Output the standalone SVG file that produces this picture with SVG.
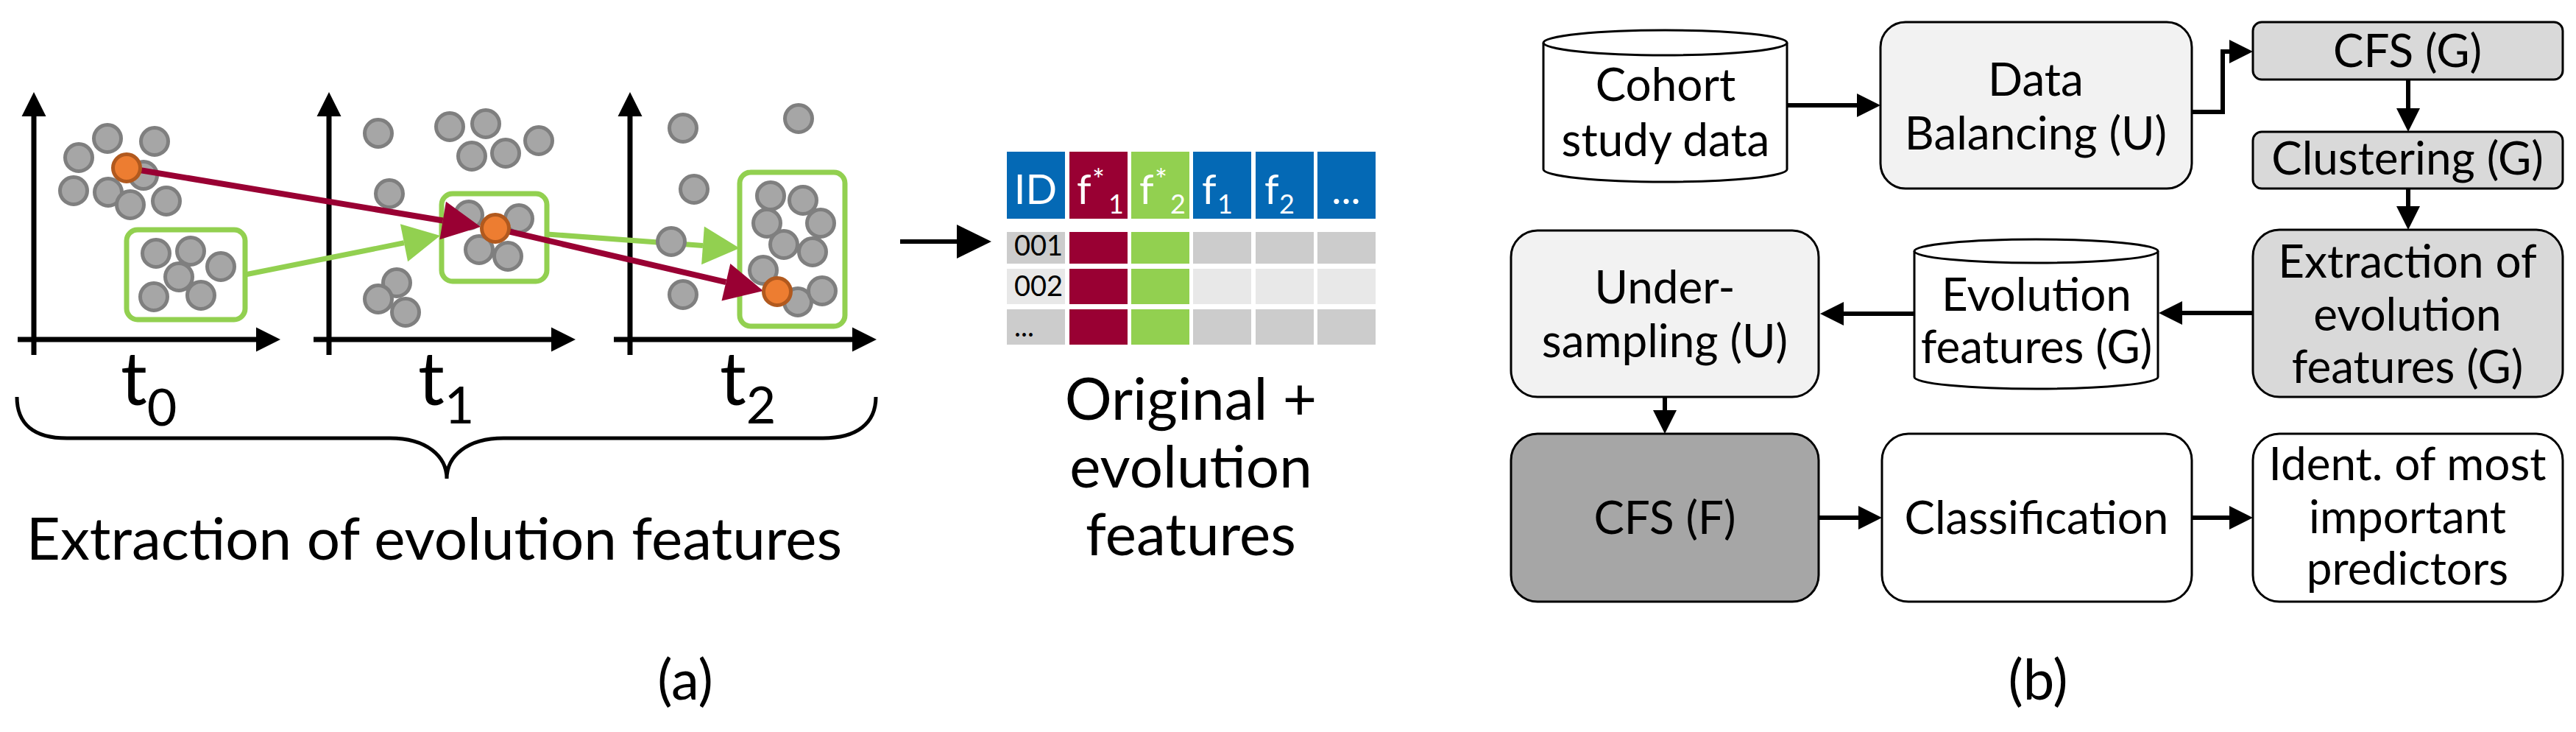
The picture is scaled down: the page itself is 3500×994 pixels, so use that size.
<svg xmlns="http://www.w3.org/2000/svg" width="3500" height="994" viewBox="0 0 3500 994">
<style>
.gc{fill:#A6A6A6;stroke:#7F7F7F;stroke-width:5}
.oc{fill:#ED7D31;stroke:#B1591E;stroke-width:5}
.ax{stroke:#000;stroke-width:7;fill:none}
.gbox{fill:none;stroke:#92D050;stroke-width:7}
.rl{stroke:#990033;stroke-width:8;fill:none}
.gl{stroke:#92D050;stroke-width:7;fill:none}
.box{stroke:#000;stroke-width:3}
.cyl{fill:#fff;stroke:#000;stroke-width:3}
.con{stroke:#000;stroke-width:6;fill:none}
.t{font-family:Lato,"Liberation Sans",sans-serif;fill:#000}
.lbl{font-family:Lato,"Liberation Sans",sans-serif;font-size:62px;text-anchor:middle;fill:#000}
.hd{font-family:Lato,"Liberation Sans",sans-serif;fill:#fff}
</style>
<defs>
<marker id="axH" markerUnits="userSpaceOnUse" orient="auto" refX="0" refY="0" markerWidth="40" markerHeight="40" overflow="visible"><path d="M0,-16.5 L33,0 L0,16.5 z" fill="#000"/></marker>
<marker id="redH" markerUnits="userSpaceOnUse" orient="auto" refX="0" refY="0" markerWidth="60" markerHeight="60" overflow="visible"><path d="M0,-26 L52,0 L0,26 z" fill="#990033"/></marker>
<marker id="grnH" markerUnits="userSpaceOnUse" orient="auto" refX="0" refY="0" markerWidth="60" markerHeight="60" overflow="visible"><path d="M0,-26 L50,0 L0,26 z" fill="#92D050"/></marker>
<marker id="fcH" markerUnits="userSpaceOnUse" orient="auto" refX="0" refY="0" markerWidth="40" markerHeight="40" overflow="visible"><path d="M0,-16 L32,0 L0,16 z" fill="#000"/></marker>
<marker id="tbH" markerUnits="userSpaceOnUse" orient="auto" refX="0" refY="0" markerWidth="60" markerHeight="60" overflow="visible"><path d="M0,-23 L47,0 L0,23 z" fill="#000"/></marker>
</defs>

<g id="panel-a">
  <g id="axes">
    <path class="ax" d="M46,482 L46,158" marker-end="url(#axH)"/>
    <path class="ax" d="M24,461 L348,461" marker-end="url(#axH)"/>
    <path class="ax" d="M447,482 L447,158" marker-end="url(#axH)"/>
    <path class="ax" d="M426,461 L749,461" marker-end="url(#axH)"/>
    <path class="ax" d="M856,482 L856,158" marker-end="url(#axH)"/>
    <path class="ax" d="M834,461 L1158,461" marker-end="url(#axH)"/>
  </g>
  <g id="clusters">
    <rect class="gbox" x="172" y="312" width="161" height="122" rx="15"/>
    <rect class="gbox" x="600" y="263" width="143" height="119" rx="15"/>
    <rect class="gbox" x="1005" y="234" width="143" height="209" rx="15"/>
  </g>
  <g id="points-t0">
    <circle class="gc" cx="146" cy="188" r="18.5"/>
    <circle class="gc" cx="210" cy="192" r="18.5"/>
    <circle class="gc" cx="107" cy="214" r="18.5"/>
    <circle class="gc" cx="195" cy="238" r="18.5"/>
    <circle class="gc" cx="100" cy="259" r="18.5"/>
    <circle class="gc" cx="147" cy="261" r="18.5"/>
    <circle class="gc" cx="177" cy="278" r="18.5"/>
    <circle class="gc" cx="226" cy="273" r="18.5"/>
    <circle class="gc" cx="212" cy="344" r="18.5"/>
    <circle class="gc" cx="259" cy="341" r="18.5"/>
    <circle class="gc" cx="300" cy="362" r="18.5"/>
    <circle class="gc" cx="243" cy="376" r="18.5"/>
    <circle class="gc" cx="209" cy="403" r="18.5"/>
    <circle class="gc" cx="273" cy="401" r="18.5"/>
  </g>
  <g id="points-t1">
    <circle class="gc" cx="514" cy="181" r="18.5"/>
    <circle class="gc" cx="611" cy="172" r="18.5"/>
    <circle class="gc" cx="660" cy="168" r="18.5"/>
    <circle class="gc" cx="641" cy="212" r="18.5"/>
    <circle class="gc" cx="687" cy="208" r="18.5"/>
    <circle class="gc" cx="732" cy="191" r="18.5"/>
    <circle class="gc" cx="529" cy="263" r="18.5"/>
    <circle class="gc" cx="637" cy="292" r="18.5"/>
    <circle class="gc" cx="705" cy="297" r="18.5"/>
    <circle class="gc" cx="651" cy="339" r="18.5"/>
    <circle class="gc" cx="690" cy="348" r="18.5"/>
    <circle class="gc" cx="539" cy="384" r="18.5"/>
    <circle class="gc" cx="514" cy="406" r="18.5"/>
    <circle class="gc" cx="551" cy="424" r="18.5"/>
  </g>
  <g id="points-t2">
    <circle class="gc" cx="928" cy="174" r="18.5"/>
    <circle class="gc" cx="1085" cy="161" r="18.5"/>
    <circle class="gc" cx="943" cy="257" r="18.5"/>
    <circle class="gc" cx="928" cy="400" r="18.5"/>
    <circle class="gc" cx="1047" cy="266" r="18.5"/>
    <circle class="gc" cx="1091" cy="272" r="18.5"/>
    <circle class="gc" cx="1042" cy="303" r="18.5"/>
    <circle class="gc" cx="1115" cy="303" r="18.5"/>
    <circle class="gc" cx="1065" cy="332" r="18.5"/>
    <circle class="gc" cx="1104" cy="342" r="18.5"/>
    <circle class="gc" cx="1037" cy="367" r="18.5"/>
    <circle class="gc" cx="1084" cy="410" r="18.5"/>
    <circle class="gc" cx="1117" cy="395" r="18.5"/>
  </g>
  <g id="trajectories">
    <path class="gl" d="M333,373 L549,329.8" marker-end="url(#grnH)"/>
    <path class="gl" d="M743,318 L955,333.4" marker-end="url(#grnH)"/>
    <circle class="gc" cx="912" cy="328" r="18.5"/>
    <path class="rl" d="M172,228 L601.7,299.5" marker-end="url(#redH)"/>
    <path class="rl" d="M673,310 L986.4,383.2" marker-end="url(#redH)"/>
  </g>
  <g id="tracked">
    <circle class="oc" cx="172" cy="228" r="18.5"/>
    <circle class="oc" cx="673" cy="310" r="18.5"/>
    <circle class="oc" cx="1056" cy="396" r="18.5"/>
  </g>
  <g id="time-labels">
    <text class="t" x="164" y="550" font-size="100">t<tspan font-size="70" dy="28">0</tspan></text>
    <text class="t" x="568" y="550" font-size="100">t<tspan font-size="70" dy="25">1</tspan></text>
    <text class="t" x="978" y="550" font-size="100">t<tspan font-size="70" dy="25">2</tspan></text>
  </g>
  <path id="brace" d="M23,539 C23,575 45,595 91,595 L530,595 C580,595 607,620 607,650 C607,620 634,595 684,595 L1118,595 C1164,595 1190,575 1190,539" fill="none" stroke="#000" stroke-width="5"/>
  <text class="t" x="590" y="760" font-size="80" text-anchor="middle">Extraction of evolution features</text>
  <path id="to-table" class="con" d="M1223,328 L1300,328" stroke-width="8" marker-end="url(#tbH)"/>
  <g id="table">
    <rect x="1368" y="206" width="79" height="91" fill="#0469B5"/>
    <rect x="1453" y="206" width="79" height="91" fill="#990033"/>
    <rect x="1537" y="206" width="79" height="91" fill="#92D050"/>
    <rect x="1621" y="206" width="79" height="91" fill="#0469B5"/>
    <rect x="1706" y="206" width="79" height="91" fill="#0469B5"/>
    <rect x="1790" y="206" width="79" height="91" fill="#0469B5"/>
    <text class="hd" x="1407" y="277" font-size="56" text-anchor="middle">ID</text>
    <text class="hd" x="1463" y="277" font-size="56">f</text>
    <text class="hd" x="1484" y="259" font-size="40">*</text>
    <text class="hd" x="1506" y="290" font-size="36">1</text>
    <text class="hd" x="1548" y="277" font-size="56">f</text>
    <text class="hd" x="1569" y="259" font-size="40">*</text>
    <text class="hd" x="1590" y="290" font-size="36">2</text>
    <text class="hd" x="1633" y="277" font-size="56">f</text>
    <text class="hd" x="1654" y="290" font-size="36">1</text>
    <text class="hd" x="1718" y="277" font-size="56">f</text>
    <text class="hd" x="1738" y="290" font-size="36">2</text>
    <text class="hd" x="1829" y="277" font-size="56" text-anchor="middle">...</text>
    <g fill="#CCCCCC">
      <rect x="1368" y="315" width="79" height="43"/>
      <rect x="1621" y="315" width="79" height="43"/>
      <rect x="1706" y="315" width="79" height="43"/>
      <rect x="1790" y="315" width="79" height="43"/>
      <rect x="1368" y="420" width="79" height="48"/>
      <rect x="1621" y="420" width="79" height="48"/>
      <rect x="1706" y="420" width="79" height="48"/>
      <rect x="1790" y="420" width="79" height="48"/>
    </g>
    <g fill="#E8E8E8">
      <rect x="1368" y="365" width="79" height="48"/>
      <rect x="1621" y="365" width="79" height="48"/>
      <rect x="1706" y="365" width="79" height="48"/>
      <rect x="1790" y="365" width="79" height="48"/>
    </g>
    <g fill="#990033">
      <rect x="1453" y="315" width="79" height="43"/>
      <rect x="1453" y="365" width="79" height="48"/>
      <rect x="1453" y="420" width="79" height="48"/>
    </g>
    <g fill="#92D050">
      <rect x="1537" y="315" width="79" height="43"/>
      <rect x="1537" y="365" width="79" height="48"/>
      <rect x="1537" y="420" width="79" height="48"/>
    </g>
    <text class="t" x="1378" y="347" font-size="38">001</text>
    <text class="t" x="1378" y="402" font-size="38">002</text>
    <text class="t" x="1378" y="457" font-size="38">...</text>
  </g>
  <text class="t" font-size="80" text-anchor="middle"><tspan x="1618" y="570">Original +</tspan><tspan x="1618" y="662">evolution</tspan><tspan x="1618" y="754">features</tspan></text>
  <text class="t" x="931" y="950" font-size="76" text-anchor="middle">(a)</text>
</g>

<g id="panel-b">
  <g id="connectors">
    <path class="con" d="M2428,143 L2523,143" marker-end="url(#fcH)"/>
    <path class="con" d="M2978,152 L3020,152 L3020,70 L3029,70" marker-end="url(#fcH)"/>
    <path class="con" d="M3272,108 L3272,147" marker-end="url(#fcH)"/>
    <path class="con" d="M3272,256 L3272,280" marker-end="url(#fcH)"/>
    <path class="con" d="M3061,425 L2965,425" marker-end="url(#fcH)"/>
    <path class="con" d="M2601,426 L2505,426" marker-end="url(#fcH)"/>
    <path class="con" d="M2262,539 L2262,557" marker-end="url(#fcH)"/>
    <path class="con" d="M2471,703 L2525,703" marker-end="url(#fcH)"/>
    <path class="con" d="M2978,703 L3029,703" marker-end="url(#fcH)"/>
  </g>
  <g id="cohort">
    <path class="cyl" d="M2097,58 L2097,230 A165.5,17 0 0 0 2428,230 L2428,58"/>
    <ellipse class="cyl" cx="2262.5" cy="58" rx="165.5" ry="17"/>
    <text class="lbl"><tspan x="2263" y="137">Cohort</tspan><tspan x="2263" y="212">study data</tspan></text>
  </g>
  <g id="balancing">
    <rect class="box" x="2555" y="30" width="423" height="226" rx="34" fill="#F2F2F2"/>
    <text class="lbl"><tspan x="2766" y="130">Data</tspan><tspan x="2766" y="203">Balancing (U)</tspan></text>
  </g>
  <g id="cfs-g">
    <rect class="box" x="3061" y="30" width="421" height="78" rx="12" fill="#D9D9D9"/>
    <text class="lbl" x="3271" y="91">CFS (G)</text>
  </g>
  <g id="clustering">
    <rect class="box" x="3061" y="179" width="421" height="77" rx="12" fill="#D9D9D9"/>
    <text class="lbl" x="3271" y="237">Clustering (G)</text>
  </g>
  <g id="extraction">
    <rect class="box" x="3061" y="312" width="421" height="227" rx="36" fill="#D9D9D9"/>
    <text class="lbl"><tspan x="3271" y="377">Extraction of</tspan><tspan x="3271" y="449">evolution</tspan><tspan x="3271" y="520">features (G)</tspan></text>
  </g>
  <g id="evolution">
    <path class="cyl" d="M2601,341 L2601,512 A165.5,16 0 0 0 2932,512 L2932,341"/>
    <ellipse class="cyl" cx="2766.5" cy="341" rx="165.5" ry="16"/>
    <text class="lbl"><tspan x="2767" y="422">Evolution</tspan><tspan x="2767" y="493">features (G)</tspan></text>
  </g>
  <g id="undersampling">
    <rect class="box" x="2053" y="313" width="418" height="226" rx="36" fill="#F2F2F2"/>
    <text class="lbl"><tspan x="2262" y="412">Under-</tspan><tspan x="2262" y="485">sampling (U)</tspan></text>
  </g>
  <g id="cfs-f">
    <rect class="box" x="2053" y="589" width="418" height="228" rx="36" fill="#A6A6A6"/>
    <text class="lbl" x="2262" y="725">CFS (F)</text>
  </g>
  <g id="classification">
    <rect class="box" x="2557" y="589" width="421" height="228" rx="36" fill="#FFFFFF"/>
    <text class="lbl" x="2767" y="725">Classification</text>
  </g>
  <g id="ident">
    <rect class="box" x="3061" y="589" width="421" height="228" rx="36" fill="#FFFFFF"/>
    <text class="lbl"><tspan x="3271" y="652">Ident. of most</tspan><tspan x="3271" y="724">important</tspan><tspan x="3271" y="794">predictors</tspan></text>
  </g>
  <text class="t" x="2769" y="950" font-size="76" text-anchor="middle">(b)</text>
</g>
</svg>
